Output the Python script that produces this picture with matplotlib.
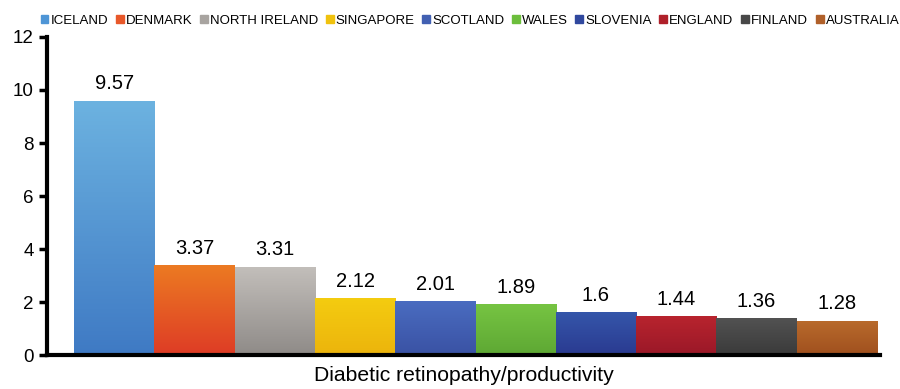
import numpy as np
import matplotlib.pyplot as plt
from matplotlib.colors import LinearSegmentedColormap
from matplotlib.patches import Patch

plt.rcParams['font.family'] = ['Liberation Sans', 'DejaVu Sans']

countries = ['ICELAND', 'DENMARK', 'NORTH IRELAND', 'SINGAPORE', 'SCOTLAND',
             'WALES', 'SLOVENIA', 'ENGLAND', 'FINLAND', 'AUSTRALIA']
values = [9.57, 3.37, 3.31, 2.12, 2.01, 1.89, 1.6, 1.44, 1.36, 1.28]
labels = ['9.57', '3.37', '3.31', '2.12', '2.01', '1.89', '1.6', '1.44', '1.36', '1.28']

# top / bottom shades of each bar
top_cols = ['#6CB2E0', '#EC7A22', '#C2BEBA', '#F4CC10', '#4A6CC0',
            '#76C442', '#3556AA', '#B8242E', '#525252', '#B86A2C']
bot_cols = ['#3F7AC4', '#DE3C26', '#8F8B88', '#ECB40C', '#3A52A4',
            '#5EA834', '#2A3A90', '#9A1828', '#3A3A3A', '#A0501E']
legend_cols = ['#4E95D6', '#E8582A', '#A8A4A0', '#F0C20E', '#4260B2',
               '#6CBE3C', '#30489E', '#B0202A', '#484848', '#B0602A']

fig = plt.figure(figsize=(9, 3.89), dpi=100)
ax = fig.add_axes([0.052, 0.087, 0.926, 0.818])

x = np.arange(len(values))
w = 1.0
for i in range(len(values)):
    cmap = LinearSegmentedColormap.from_list('g', [bot_cols[i], top_cols[i]])
    grad = np.linspace(0, 1, 100).reshape(-1, 1)
    ax.imshow(grad, cmap=cmap, origin='lower', aspect='auto',
              extent=[x[i] - w/2, x[i] + w/2, 0, values[i]], zorder=2)
    ax.text(x[i], values[i] + 0.3, labels[i], ha='center', va='bottom', fontsize=14.5)

ax.set_xlim(-0.84, 9.54)
ax.set_ylim(0, 12)
ax.set_yticks([0, 2, 4, 6, 8, 10, 12])
ax.set_xticks([])
ax.tick_params(axis='y', labelsize=13.5, width=2.5, length=6, direction='out')
for s in ['top', 'right']:
    ax.spines[s].set_visible(False)
ax.spines['left'].set_linewidth(3)
ax.spines['bottom'].set_linewidth(3)
ax.set_xlabel('Diabetic retinopathy/productivity', fontsize=15.2, labelpad=8)

handles = [Patch(color=c) for c in legend_cols]
leg = fig.legend(handles, countries, loc='center left', bbox_to_anchor=(0.045, 0.947),
                 ncol=10, frameon=False, fontsize=9.5, handlelength=0.6, handleheight=0.6,
                 handletextpad=0.15, columnspacing=0.58, borderaxespad=0, borderpad=0)

fig.savefig('out.png', dpi=100)
